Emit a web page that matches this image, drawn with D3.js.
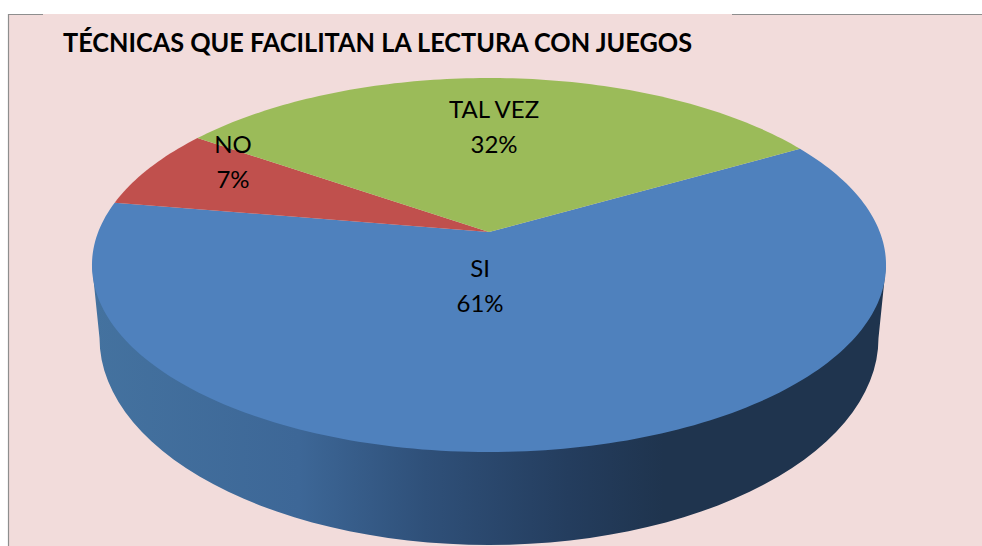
<!DOCTYPE html>
<html>
<head>
<meta charset="utf-8">
<script src="https://cdn.jsdelivr.net/npm/d3@7"></script>
<style>
  html, body { margin: 0; padding: 0; background: #fff; }
  svg { display: block; }
  text { font-family: Lato, "Open Sans", sans-serif; fill: #000; }
</style>
</head>
<body>
<script>
var titulo = 'TÉCNICAS QUE FACILITAN LA LECTURA CON JUEGOS';
var categorias = ['SI', 'NO', 'TAL VEZ'];
var valores = [61, 7, 32];
var colores = ['#4f81bd', '#c0504d', '#9bbb59'];

var width = 982;
var height = 546;

// posicion de las etiquetas, una por categoria
var posEtiquetas = { 'SI': [480, 269], 'NO': [233, 145], 'TAL VEZ': [494, 110] };

// disco en perspectiva: el centro del pastel no cae en el centro de la elipse
var cx = 489, cy = 232;
var escalaX = 390.8, escalaY = 181.2, persp = 0.1765;

function proyecta(ang, r) {
  // ang en radianes, en sentido horario desde arriba
  var u = Math.sin(ang) * r;
  var v = -Math.cos(ang) * r;
  var w = 1 - persp * v;
  return [cx + escalaX * u / w, cy + escalaY * v / w];
}

var svg = d3.select('body').append('svg')
  .attr('width', width)
  .attr('height', height);

// fondo y borde
svg.append('rect')
  .attr('x', 8).attr('y', 14)
  .attr('width', width - 8).attr('height', height - 14)
  .style('fill', '#f2dcdb');
svg.append('path')
  .attr('d', 'M43 14.5H8.5V546M732 14.5H982')
  .style('fill', 'none')
  .style('stroke', '#8e8e8e')
  .style('stroke-width', 1.2);

var defs = svg.append('defs');
var grad = defs.append('linearGradient')
  .attr('id', 'lateral')
  .attr('gradientUnits', 'userSpaceOnUse')
  .attr('x1', 92).attr('x2', 886).attr('y1', 0).attr('y2', 0);
grad.append('stop').attr('offset', '0%').attr('stop-color', '#44729f');
grad.append('stop').attr('offset', '26%').attr('stop-color', '#3d6797');
grad.append('stop').attr('offset', '42%').attr('stop-color', '#2f5079');
grad.append('stop').attr('offset', '60%').attr('stop-color', '#243d5e');
grad.append('stop').attr('offset', '72%').attr('stop-color', '#1f344e');
grad.append('stop').attr('offset', '100%').attr('stop-color', '#1f344e');

var linea = d3.line();

// pared lateral: base elipse inferior, unida a los extremos de la cara superior
var baseY = 338, baseRx = 389.5, baseRy = 207;
var puntosPared = [[92, 265]];
d3.range(0, 181, 3).forEach(function (g) {
  var a = (180 - g) * Math.PI / 180;
  puntosPared.push([cx + baseRx * Math.cos(a), baseY + baseRy * Math.sin(a)]);
});
puntosPared.push([886, 265]);
svg.append('path')
  .attr('d', linea(puntosPared) + 'Z')
  .style('fill', 'url(#lateral)');

// cara superior
var pie = d3.pie().sort(null)
  .startAngle(60 * Math.PI / 180)
  .endAngle(420 * Math.PI / 180);
var arcos = pie(valores);

svg.selectAll('path.slice')
  .data(arcos)
  .enter()
  .append('path')
  .attr('class', 'slice')
  .attr('d', function (d) {
    var pts = [[cx, cy]];
    var n = Math.ceil((d.endAngle - d.startAngle) / 0.02);
    d3.range(n + 1).forEach(function (i) {
      pts.push(proyecta(d.startAngle + (d.endAngle - d.startAngle) * i / n, 1));
    });
    return linea(pts) + 'Z';
  })
  .style('fill', function (d, i) { return colores[i]; });

// titulo
svg.append('text')
  .attr('x', 63).attr('y', 52)
  .attr('textLength', 629)
  .attr('lengthAdjust', 'spacingAndGlyphs')
  .style('font-size', '26px')
  .style('font-weight', 700)
  .text(titulo);

// etiquetas
var etiquetas = svg.selectAll('g.etiqueta')
  .data(categorias)
  .enter()
  .append('g')
  .attr('class', 'etiqueta')
  .attr('transform', function (d) { return 'translate(' + posEtiquetas[d] + ')'; });
etiquetas.append('text')
  .attr('text-anchor', 'middle')
  .attr('y', 8)
  .style('font-size', '24px')
  .text(function (d) { return d; });
etiquetas.append('text')
  .attr('text-anchor', 'middle')
  .attr('y', 43)
  .style('font-size', '24px')
  .text(function (d, i) { return valores[i] + '%'; });
</script>
</body>
</html>
